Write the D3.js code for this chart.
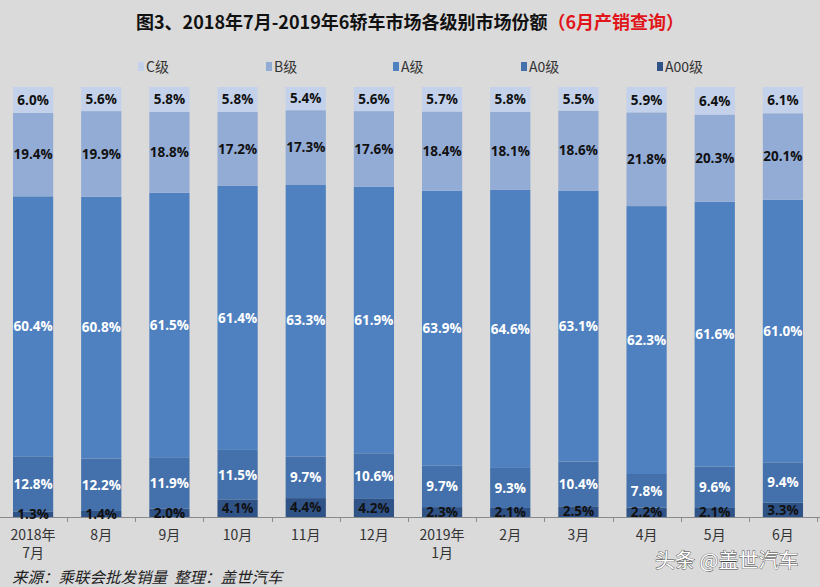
<!DOCTYPE html>
<html>
<head>
<meta charset="utf-8">
<script src="https://cdn.jsdelivr.net/npm/d3@7"></script>
<style>
  body { margin: 0; background: #dadada; }
  svg { display: block; font-family: "Noto Sans CJK SC", "Open Sans", sans-serif; }
</style>
</head>
<body>
<div id="chart"></div>
<script>
var svgWidth = 820;
var svgHeight = 587;

// months (two-line labels)
var months = [["2018年", "7月"], ["8月"], ["9月"], ["10月"], ["11月"], ["12月"],
  ["2019年", "1月"], ["2月"], ["3月"], ["4月"], ["5月"], ["6月"]];

var seriesNames = ["A00级", "A0级", "A级", "B级", "C级"];
var a00 = [1.3, 1.4, 2.0, 4.1, 4.4, 4.2, 2.3, 2.1, 2.5, 2.2, 2.1, 3.3];
var a0 = [12.8, 12.2, 11.9, 11.5, 9.7, 10.6, 9.7, 9.3, 10.4, 7.8, 9.6, 9.4];
var aa = [60.4, 60.8, 61.5, 61.4, 63.3, 61.9, 63.9, 64.6, 63.1, 62.3, 61.6, 61.0];
var bb = [19.4, 19.9, 18.8, 17.2, 17.3, 17.6, 18.4, 18.1, 18.6, 21.8, 20.3, 20.1];
var cc = [6.0, 5.6, 5.8, 5.8, 5.4, 5.6, 5.7, 5.8, 5.5, 5.9, 6.4, 6.1];

var colors = ["#2f5287", "#4471ab", "#4f81c0", "#93acd6", "#c3d1ea"];
var labelColors = ["#111", "#fff", "#fff", "#111", "#111"];

// flatten into segments (normalised to 100%, like a 100% stacked chart)
var segs = [];
months.forEach(function(m, i) {
  var vals = [a00[i], a0[i], aa[i], bb[i], cc[i]];
  var total = d3.sum(vals);
  var acc = 0;
  vals.forEach(function(v, k) {
    var y0 = acc / total * 100;
    acc += v;
    segs.push({ idx: i, k: k, v: v, y0: y0, y1: acc / total * 100 });
  });
});

var svg = d3.select("#chart").append("svg")
  .attr("width", svgWidth)
  .attr("height", svgHeight);

svg.append("rect").attr("width", svgWidth).attr("height", svgHeight).attr("fill", "#dadada");

// title
var title = svg.append("text")
  .attr("x", 410).attr("y", 29)
  .attr("text-anchor", "middle")
  .attr("font-size", "18px")
  .attr("font-weight", "bold");
title.append("tspan").attr("fill", "#111").text("图3、2018年7月-2019年6轿车市场各级别市场份额");
title.append("tspan").attr("fill", "#e0161b").text("（6月产销查询）");

var x = d3.scaleBand()
  .domain(d3.range(months.length))
  .range([-1, 817])
  .paddingInner(0.41)
  .paddingOuter(0.205);

var y = d3.scaleLinear().domain([0, 100]).range([517, 87]);

// bars
svg.append("g").selectAll("rect")
  .data(segs)
  .enter().append("rect")
  .attr("x", d => x(d.idx))
  .attr("width", x.bandwidth())
  .attr("y", d => y(d.y1))
  .attr("height", d => y(d.y0) - y(d.y1))
  .attr("fill", d => colors[d.k]);

// x axis
var axis = svg.append("g");
axis.append("line")
  .attr("x1", 0).attr("x2", 820)
  .attr("y1", 517.5).attr("y2", 517.5)
  .attr("stroke", "#8a8a8a");
axis.selectAll(".tick")
  .data(d3.range(months.length + 1))
  .enter().append("line")
  .attr("x1", function(d) { return Math.round(x(0) - x.step() * x.paddingInner() / 2 + d * x.step()) + 0.5; })
  .attr("x2", function(d) { return Math.round(x(0) - x.step() * x.paddingInner() / 2 + d * x.step()) + 0.5; })
  .attr("y1", 517).attr("y2", 522)
  .attr("stroke", "#8a8a8a");

// data labels on top
svg.append("g").selectAll("text")
  .data(segs)
  .enter().append("text")
  .attr("x", d => x(d.idx) + x.bandwidth() / 2)
  .attr("y", d => (y(d.y0) + y(d.y1)) / 2)
  .attr("dy", "0.36em")
  .attr("text-anchor", "middle")
  .attr("font-family", "'Open Sans', 'DejaVu Sans', sans-serif")
  .attr("font-size", "13.5px")
  .attr("font-weight", "bold")
  .attr("fill", d => labelColors[d.k])
  .text(d => d.v.toFixed(1) + "%");

months.forEach(function(m, i) {
  var t = svg.append("text")
    .attr("x", x(i) + x.bandwidth() / 2)
    .attr("y", 540)
    .attr("text-anchor", "middle")
    .attr("font-size", "14px")
    .attr("fill", "#333");
  m.forEach(function(line, j) {
    t.append("tspan")
      .attr("x", x(i) + x.bandwidth() / 2)
      .attr("dy", j === 0 ? 0 : "1.3em")
      .text(line);
  });
});

// legend
var legendX = [138, 266, 393, 521, 657];
var legendOrder = [4, 3, 2, 1, 0];
legendOrder.forEach(function(k, i) {
  svg.append("rect")
    .attr("x", legendX[i]).attr("y", 62)
    .attr("width", 6).attr("height", 9)
    .attr("fill", colors[k]);
  svg.append("text")
    .attr("x", legendX[i] + 8).attr("y", 72)
    .attr("font-size", "14px")
    .attr("fill", "#333")
    .text(seriesNames[k]);
});

// footer
svg.append("text")
  .attr("x", 12).attr("y", 583)
  .attr("font-size", "15.5px")
  .attr("font-style", "italic")
  .attr("fill", "#222")
  .attr("xml:space", "preserve")
  .text("来源：乘联会批发销量  整理：盖世汽车");

svg.append("text")
  .attr("x", 655).attr("y", 568)
  .attr("font-size", "20px")
  .attr("fill", "#fff")
  .attr("stroke", "#444")
  .attr("stroke-width", 0.8)
  .attr("paint-order", "stroke")
  .text("头条 @盖世汽车");
</script>
</body>
</html>
